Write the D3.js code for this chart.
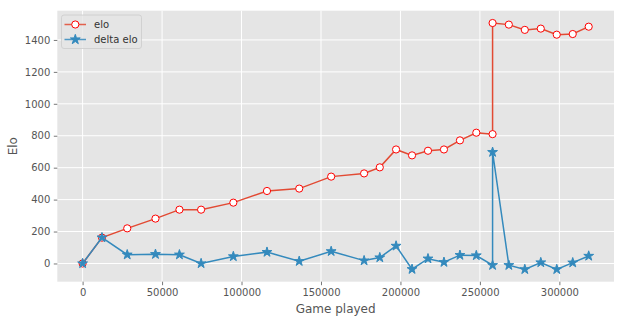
<!DOCTYPE html>
<html>
<head>
<meta charset="utf-8">
<script src="https://cdn.jsdelivr.net/npm/d3@7"></script>
<style>
  html, body { margin: 0; padding: 0; background: #fff; }
  svg { display: block; font-family: "DejaVu Sans", sans-serif; }
</style>
</head>
<body>
<svg id="chart" width="625" height="323"></svg>
<script>
// ---- data ----
const games = [0, 12190, 28080, 45850, 60930, 74560, 94850, 116020, 136300, 156400,
  177130, 187000, 197240, 207290, 217330, 227380, 237430, 247730, 257970, 257970,
  268200, 278250, 288300, 298350, 308400, 318450];
const elo = [0, 162, 220, 281, 337, 337, 381, 454, 469, 544,
  564, 602, 714, 677, 706, 714, 771, 819, 810, 1506,
  1496, 1463, 1471, 1433, 1437, 1483];
const deltaElo = [0, 162, 55, 58, 55, 0, 44, 71, 14, 76,
  18, 37, 110, -36, 30, 8, 52, 50, -11, 697,
  -11, -37, 6, -37, 5, 47];
const xTicks = [0, 50000, 100000, 150000, 200000, 250000, 300000];
const yTicks = [0, 200, 400, 600, 800, 1000, 1200, 1400];
const seriesNames = ["elo", "delta elo"];
const xLabel = "Game played";
const yLabel = "Elo";

// ---- layout ----
const svg = d3.select("#chart");
const plot = { left: 57.3, right: 614, top: 10.7, bottom: 281.7 };

const xMin = d3.min(games), xMax = d3.max(games);
const xPad = (xMax - xMin) * 0.05;
const allY = elo.concat(deltaElo);
const yMin = d3.min(allY), yMax = d3.max(allY);
const yPad = (yMax - yMin) * 0.05;

const x = d3.scaleLinear().domain([xMin - xPad, xMax + xPad]).range([plot.left, plot.right]);
const y = d3.scaleLinear().domain([yMin - yPad, yMax + yPad]).range([plot.bottom, plot.top]);

// background
svg.append("rect")
  .attr("x", plot.left).attr("y", plot.top)
  .attr("width", plot.right - plot.left).attr("height", plot.bottom - plot.top)
  .attr("fill", "#E5E5E5");

// grid
const grid = svg.append("g");
grid.selectAll(".gx").data(xTicks).enter().append("line")
  .attr("x1", d => x(d)).attr("x2", d => x(d))
  .attr("y1", plot.top).attr("y2", plot.bottom)
  .attr("stroke", "#fff").attr("stroke-width", 1);
grid.selectAll(".gy").data(yTicks).enter().append("line")
  .attr("y1", d => y(d)).attr("y2", d => y(d))
  .attr("x1", plot.left).attr("x2", plot.right)
  .attr("stroke", "#fff").attr("stroke-width", 1);

// axes
const xAxis = d3.axisBottom(x).tickValues(xTicks).tickFormat(d3.format("d")).tickSize(3.5).tickPadding(3.5);
const yAxis = d3.axisLeft(y).tickValues(yTicks).tickFormat(d3.format("d")).tickSize(3.5).tickPadding(3.5);

const gx = svg.append("g").attr("transform", `translate(0,${plot.bottom})`).call(xAxis);
const gy = svg.append("g").attr("transform", `translate(${plot.left},0)`).call(yAxis);
[gx, gy].forEach(g => {
  g.select(".domain").remove();
  g.selectAll(".tick line").attr("stroke", "#555555").attr("stroke-width", 0.8);
  g.selectAll(".tick text").attr("fill", "#555555").attr("font-size", 10)
    .attr("font-family", "DejaVu Sans, sans-serif");
});

// axis labels
svg.append("text").attr("x", (plot.left + plot.right) / 2).attr("y", 313)
  .attr("text-anchor", "middle").attr("fill", "#555555").attr("font-size", 12)
  .text(xLabel);
svg.append("text").attr("transform", `translate(17,${(plot.top + plot.bottom) / 2}) rotate(-90)`)
  .attr("text-anchor", "middle").attr("fill", "#555555").attr("font-size", 12)
  .text(yLabel);

const clip = svg.append("defs").append("clipPath").attr("id", "clip")
  .append("rect").attr("x", plot.left).attr("y", plot.top)
  .attr("width", plot.right - plot.left).attr("height", plot.bottom - plot.top);

const red = "#E24A33", blue = "#348ABD";
const line = d3.line().x(d => x(d[0])).y(d => y(d[1]));
const eloData = games.map((g, i) => [g, elo[i]]);
const deltaData = games.map((g, i) => [g, deltaElo[i]]);
const star = d3.symbol().type(d3.symbolStar).size(30);

const marks = svg.append("g").attr("clip-path", "url(#clip)");
// elo series
marks.append("path").datum(eloData).attr("d", line)
  .attr("fill", "none").attr("stroke", red).attr("stroke-width", 1.5);
marks.selectAll(".c").data(eloData).enter().append("circle")
  .attr("cx", d => x(d[0])).attr("cy", d => y(d[1])).attr("r", 3.6)
  .attr("fill", "#fff").attr("stroke", "#FF0000").attr("stroke-width", 1);
// delta series
marks.append("path").datum(deltaData).attr("d", line)
  .attr("fill", "none").attr("stroke", blue).attr("stroke-width", 1.5);
marks.selectAll(".s").data(deltaData).enter().append("path")
  .attr("d", star)
  .attr("transform", d => `translate(${x(d[0])},${y(d[1])})`)
  .attr("fill", blue).attr("stroke", blue).attr("stroke-width", 1);

// legend
const lg = svg.append("g");
lg.append("rect").attr("x", 61.5).attr("y", 15).attr("width", 80).attr("height", 33.5)
  .attr("rx", 2.5).attr("fill", "#E5E5E5").attr("fill-opacity", 0.8)
  .attr("stroke", "#CCCCCC").attr("stroke-width", 0.8);
const legendItems = [
  { name: seriesNames[0], color: red, kind: "circle", yy: 24.5 },
  { name: seriesNames[1], color: blue, kind: "star", yy: 39.5 }
];
legendItems.forEach(it => {
  lg.append("line").attr("x1", 64.5).attr("x2", 86).attr("y1", it.yy).attr("y2", it.yy)
    .attr("stroke", it.color).attr("stroke-width", 1.5).attr("stroke-opacity", 0.85);
  if (it.kind === "circle") {
    lg.append("circle").attr("cx", 75.3).attr("cy", it.yy).attr("r", 3.6)
      .attr("fill", "#fff").attr("stroke", "#FF0000").attr("stroke-width", 1);
  } else {
    lg.append("path").attr("d", star).attr("transform", `translate(75.3,${it.yy})`)
      .attr("fill", it.color).attr("stroke", it.color).attr("stroke-width", 1);
  }
  lg.append("text").attr("x", 94).attr("y", it.yy + 3.6)
    .attr("fill", "#333333").attr("font-size", 10).text(it.name);
});
</script>
</body>
</html>
